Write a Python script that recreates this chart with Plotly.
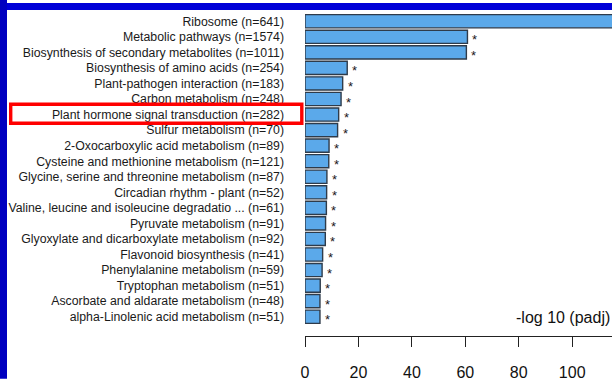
import plotly.graph_objects as go

# KEGG pathway enrichment: pathway labels, -log10(padj) and significance marks
pathways = [
    "Ribosome (n=641)",
    "Metabolic pathways (n=1574)",
    "Biosynthesis of secondary metabolites (n=1011)",
    "Biosynthesis of amino acids (n=254)",
    "Plant-pathogen interaction (n=183)",
    "Carbon metabolism (n=248)",
    "Plant hormone signal transduction (n=282)",
    "Sulfur metabolism (n=70)",
    "2-Oxocarboxylic acid metabolism (n=89)",
    "Cysteine and methionine metabolism (n=121)",
    "Glycine, serine and threonine metabolism (n=87)",
    "Circadian rhythm - plant (n=52)",
    "Valine, leucine and isoleucine degradatio ... (n=61)",
    "Pyruvate metabolism (n=91)",
    "Glyoxylate and dicarboxylate metabolism (n=92)",
    "Flavonoid biosynthesis (n=41)",
    "Phenylalanine metabolism (n=59)",
    "Tryptophan metabolism (n=51)",
    "Ascorbate and aldarate metabolism (n=48)",
    "alpha-Linolenic acid metabolism (n=51)",
]
neg_log10_padj = [130, 60.8, 60.4, 15.8, 14.1, 13.5, 12.6, 12.2, 9.0, 8.9,
                  8.2, 8.1, 8.0, 7.7, 7.6, 6.6, 6.4, 5.7, 5.6, 5.6]
signif = ["*"] * len(pathways)
x_ticks = [0, 20, 40, 60, 80, 100, 120]
highlight = "Plant hormone signal transduction (n=282)"

W, H = 612, 381
ML, MR, MT, MB = 305, 0, 10, 43
X_MAX = 114.9

def px_x(p):
    return (p - ML) / (W - ML - MR)

def px_y(p):
    return (H - MB - p) / (H - MT - MB)

fig = go.Figure()
fig.add_trace(go.Bar(
    x=neg_log10_padj,
    y=pathways,
    orientation="h",
    width=0.85,
    marker=dict(color="#5BA9EA", line=dict(color="#2E3B4A", width=1.4)),
    hoverinfo="x+y",
))

for name, v, s in zip(pathways, neg_log10_padj, signif):
    if v < X_MAX:
        fig.add_annotation(x=v, y=name, text=s, showarrow=False,
                           xanchor="left", yanchor="middle", xshift=3, yshift=-3,
                           font=dict(size=13, color="#1A1A1A",
                                     family="Liberation Sans, Arial"))

fig.add_annotation(x=1, y=px_y(319), xref="paper", yref="paper",
                   text="-log 10 (padj)", showarrow=False,
                   xanchor="right", yanchor="middle",
                   font=dict(size=16, color="#111111",
                             family="Liberation Sans, Arial"))

# frame bands along the top and left edges
fig.add_shape(type="rect", xref="paper", yref="paper",
              x0=px_x(0), x1=px_x(W), y0=px_y(10), y1=px_y(3),
              fillcolor="#0000D8", line=dict(width=0), layer="above")
fig.add_shape(type="rect", xref="paper", yref="paper",
              x0=px_x(0), x1=px_x(7), y0=px_y(H), y1=px_y(0),
              fillcolor="#0000C0", line=dict(width=0), layer="above")

# outline around the highlighted pathway label
fig.add_shape(type="rect", xref="paper", yref="paper",
              x0=px_x(10.7), x1=px_x(301.8), y0=px_y(124), y1=px_y(104.8),
              fillcolor="rgba(0,0,0,0)", line=dict(color="#FF0000", width=3.4),
              layer="above")

fig.update_layout(
    width=W, height=H,
    margin=dict(l=ML, r=MR, t=MT, b=MB, pad=0),
    paper_bgcolor="white", plot_bgcolor="white",
    showlegend=False,
    font=dict(family="Liberation Sans, Arial", color="#1A1A1A"),
    xaxis=dict(
        range=[0, X_MAX], tickvals=x_ticks, ticktext=[str(t) for t in x_ticks],
        showline=True, linecolor="#222222", linewidth=1,
        ticks="outside", ticklen=10, tickwidth=1, tickcolor="#222222",
        ticklabelstandoff=12,
        showgrid=False, zeroline=False,
        tickfont=dict(size=16, color="#111111"),
    ),
    yaxis=dict(
        categoryorder="array", categoryarray=pathways,
        range=[20.24, -0.723],
        showline=False, ticks="", showgrid=False, zeroline=False,
        ticklabelstandoff=20,
        tickfont=dict(size=12.3, color="#1A1A1A"),
    ),
)

fig.write_html("out.html")
